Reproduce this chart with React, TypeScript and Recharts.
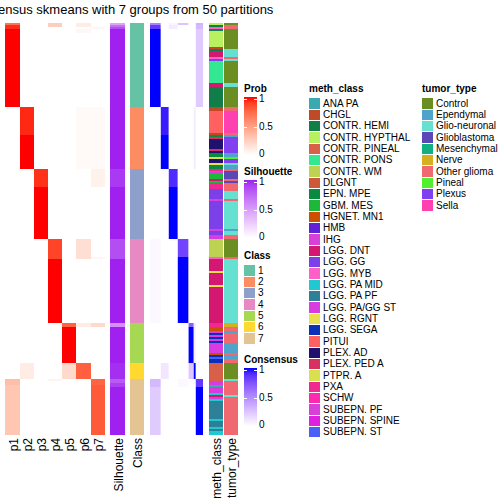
import React from 'react';
import { BarChart, Bar, XAxis, YAxis, Cell } from 'recharts';

// rows per consensus class, top to bottom
const classSizes = [42, 31, 35, 42, 20, 8, 28];
const classColors = ['#66C2A5', '#FC8D62', '#8DA0CB', '#E78AC3', '#A6D854', '#FFD92F', '#E5C494'];

// membership probability columns, run-length encoded as [rows, value]
const probP1: [number, number][] = [[1, 0.7], [2, 0.94], [39, 1], [136, 0], [3, 0.34], [25, 0.3]];
const probP2: [number, number][] = [[42, 0], [14, 0.95], [17, 1], [97, 0], [8, 0.1], [28, 0]];
const probP3: [number, number][] = [[73, 0], [9, 0.93], [26, 1], [98, 0]];
const probP4: [number, number][] = [[2, 0.26], [106, 0], [10, 0.88], [32, 1], [28, 0], [1, 0.06], [27, 0]];
const probP5: [number, number][] = [[150, 0], [2, 0.77], [18, 1], [8, 0.2], [28, 0]];
const probP6: [number, number][] = [[2, 0.1], [1, 0], [2, 0.04], [37, 0], [31, 0.03], [35, 0], [10, 0.17], [32, 0], [2, 0.1], [18, 0], [8, 0.78], [28, 0]];
const probP7: [number, number][] = [[2, 0], [1, 0.05], [39, 0], [31, 0.03], [9, 0.07], [35, 0], [1, 0.05], [32, 0], [2, 0.2], [26, 0], [3, 0.76], [25, 0.8]];
const probLabels = ['p1', 'p2', 'p3', 'p4', 'p5', 'p6', 'p7'];

const silhouetteRuns: [number, number][] = [
  [1, 0.45], [1, 0.7], [1, 0.85], [70, 1], [9, 0.93], [26, 1], [10, 0.85], [32, 1],
  [2, 0.55], [18, 1], [8, 0.96], [2, 0.8], [2, 0.9], [24, 1],
];

// consensus of each row with the samples of class 1..7
const consensusRuns: [number, number[]][] = [
  [1, [0.55, 0, 0.05, 0.25, 0, 0, 0.32]],
  [2, [0.85, 0, 0.08, 0, 0, 0, 0.3]],
  [39, [1, 0, 0, 0, 0, 0, 0.22]],
  [14, [0, 0.95, 0, 0, 0, 0.08, 0]],
  [17, [0, 1, 0, 0, 0, 0.08, 0]],
  [9, [0, 0, 0.9, 0, 0, 0, 0]],
  [26, [0, 0, 1, 0, 0, 0, 0]],
  [9, [0.03, 0, 0, 0.8, 0, 0, 0]],
  [33, [0.03, 0, 0, 1, 0, 0, 0]],
  [2, [0, 0, 0, 0, 0.7, 0.1, 0]],
  [18, [0, 0, 0, 0, 1, 0.08, 0]],
  [8, [0, 0.1, 0, 0, 0.24, 1, 0]],
  [4, [0.3, 0, 0, 0.03, 0, 0, 0.85]],
  [24, [0.22, 0, 0, 0, 0, 0, 1]],
];

const methClassLevels = [
  'ANA PA', 'CHGL', 'CONTR. HEMI', 'CONTR. HYPTHAL', 'CONTR. PINEAL', 'CONTR. PONS', 'CONTR. WM',
  'DLGNT', 'EPN. MPE', 'GBM. MES', 'HGNET. MN1', 'HMB', 'IHG', 'LGG. DNT', 'LGG. GG', 'LGG. MYB',
  'LGG. PA MID', 'LGG. PA PF', 'LGG. PA/GG ST', 'LGG. RGNT', 'LGG. SEGA', 'PITUI', 'PLEX. AD',
  'PLEX. PED A', 'PTPR. A', 'PXA', 'SCHW', 'SUBEPN. PF', 'SUBEPN. SPINE', 'SUBEPN. ST',
];
const methClassColors = [
  '#3AAAB0', '#C04A28', '#117E4A', '#B8F060', '#D86048', '#33E890', '#BCD250',
  '#CC5A3A', '#0A8A40', '#1DB83A', '#CC5000', '#6020D8', '#D840D8', '#D41872', '#7B40E8', '#FF60C8',
  '#20C8D0', '#2E8098', '#D83CE0', '#E8E050', '#0A30B8', '#FF6060', '#201070',
  '#D83060', '#D8E050', '#F02890', '#FF28B0', '#D840D8', '#E020E0', '#4860F8',
];
const tumorTypeLevels = ['Control', 'Ependymal', 'Glio-neuronal', 'Glioblastoma', 'Mesenchymal', 'Nerve', 'Other glioma', 'Pineal', 'Plexus', 'Sella'];
const tumorTypeColors = ['#6B8E23', '#4FA4CC', '#66E0D0', '#5A48B8', '#10B080', '#D4B020', '#F06870', '#50F030', '#8040F0', '#FF40B0'];

const methClassRuns: [number, string][] = [
  [1, 'CONTR. HYPTHAL'], [1, 'CONTR. HEMI'], [1, 'LGG. MYB'], [1, 'CONTR. HEMI'], [8, 'CONTR. HYPTHAL'],
  [1, 'CHGL'], [1, 'CONTR. HEMI'], [3, 'LGG. DNT'], [1, 'LGG. MYB'], [1, 'LGG. GG'], [11, 'CONTR. PONS'],
  [2, 'LGG. DNT'], [10, 'CONTR. HEMI'],
  [2, 'CHGL'], [11, 'PITUI'], [1, 'CHGL'], [1, 'EPN. MPE'], [1, 'PLEX. PED A'], [5, 'PLEX. AD'],
  [1, 'PLEX. PED A'], [1, 'PLEX. AD'], [2, 'EPN. MPE'], [1, 'PTPR. A'], [2, 'PLEX. AD'], [1, 'LGG. RGNT'], [2, 'EPN. MPE'],
  [1, 'PXA'], [1, 'IHG'], [3, 'GBM. MES'], [1, 'LGG. DNT'], [1, 'GBM. MES'], [3, 'PXA'], [5, 'LGG. GG'],
  [1, 'IHG'], [14, 'LGG. GG'], [1, 'IHG'], [2, 'LGG. GG'], [2, 'LGG. PA/GG ST'],
  [9, 'CONTR. WM'], [1, 'LGG. MYB'], [6, 'LGG. DNT'], [1, 'LGG. RGNT'], [6, 'LGG. DNT'], [1, 'LGG. RGNT'], [18, 'LGG. DNT'],
  [2, 'PXA'], [2, 'HGNET. MN1'], [1, 'LGG. PA/GG ST'], [1, 'LGG. SEGA'], [1, 'LGG. PA/GG ST'], [1, 'LGG. SEGA'],
  [1, 'LGG. PA/GG ST'], [1, 'LGG. SEGA'], [5, 'LGG. PA/GG ST'], [1, 'HGNET. MN1'], [1, 'LGG. SEGA'], [1, 'SUBEPN. ST'], [2, 'LGG. SEGA'],
  [9, 'CONTR. PINEAL'],
  [2, 'LGG. PA/GG ST'], [1, 'ANA PA'], [3, 'LGG. PA/GG ST'], [1, 'LGG. PA MID'], [1, 'LGG. DNT'], [1, 'LGG. PA/GG ST'],
  [1, 'LGG. PA MID'], [9, 'LGG. PA PF'], [1, 'LGG. PA MID'], [3, 'LGG. PA PF'], [1, 'LGG. PA MID'], [1, 'LGG. PA PF'], [2, 'LGG. PA MID'],
];

const tumorTypeRuns: [number, string][] = [
  [1, 'Control'], [2, 'Other glioma'], [10, 'Control'], [4, 'Glio-neuronal'], [1, 'Other glioma'], [1, 'Glio-neuronal'],
  [11, 'Control'], [2, 'Glio-neuronal'], [10, 'Control'],
  [2, 'Other glioma'], [11, 'Sella'], [1, 'Other glioma'], [1, 'Ependymal'], [8, 'Plexus'], [2, 'Ependymal'],
  [1, 'Pineal'], [2, 'Plexus'], [1, 'Glio-neuronal'], [2, 'Ependymal'],
  [1, 'Other glioma'], [4, 'Glioblastoma'], [1, 'Other glioma'], [1, 'Glioblastoma'], [4, 'Other glioma'],
  [4, 'Glio-neuronal'], [1, 'Other glioma'], [14, 'Glio-neuronal'], [1, 'Ependymal'], [2, 'Glio-neuronal'], [2, 'Other glioma'],
  [9, 'Control'], [1, 'Other glioma'], [32, 'Glio-neuronal'],
  [2, 'Nerve'], [2, 'Other glioma'], [1, 'Ependymal'], [5, 'Other glioma'], [5, 'Ependymal'], [1, 'Other glioma'],
  [2, 'Ependymal'], [2, 'Other glioma'],
  [8, 'Control'],
  [1, 'Glio-neuronal'], [7, 'Other glioma'], [1, 'Glio-neuronal'], [19, 'Other glioma'],
];

// ---- colour helpers (white -> colour ramps interpolated in Lab, like colorRamp2) ----
const toLin = (c: number) => { c /= 255; return c <= 0.04045 ? c / 12.92 : ((c + 0.055) / 1.055) ** 2.4; };
const fromLin = (c: number) => {
  const v = c <= 0.0031308 ? 12.92 * c : 1.055 * c ** (1 / 2.4) - 0.055;
  return Math.round(Math.max(0, Math.min(1, v)) * 255);
};
const hexToLab = (hex: string) => {
  const [r, g, b] = [1, 3, 5].map((i) => toLin(parseInt(hex.slice(i, i + 2), 16)));
  const x = (0.4124 * r + 0.3576 * g + 0.1805 * b) / 0.95047;
  const y = 0.2126 * r + 0.7152 * g + 0.0722 * b;
  const z = (0.0193 * r + 0.1192 * g + 0.9505 * b) / 1.08883;
  const f = (t: number) => (t > 0.008856 ? Math.cbrt(t) : 7.787 * t + 16 / 116);
  return [116 * f(y) - 16, 500 * (f(x) - f(y)), 200 * (f(y) - f(z))];
};
const labToHex = ([L, A, B]: number[]) => {
  const fy = (L + 16) / 116, fx = fy + A / 500, fz = fy - B / 200;
  const inv = (t: number) => (t ** 3 > 0.008856 ? t ** 3 : (t - 16 / 116) / 7.787);
  const x = inv(fx) * 0.95047, y = inv(fy), z = inv(fz) * 1.08883;
  const r = 3.2406 * x - 1.5372 * y - 0.4986 * z;
  const g = -0.9689 * x + 1.8758 * y + 0.0415 * z;
  const b = 0.0557 * x - 0.204 * y + 1.057 * z;
  return '#' + [r, g, b].map((c) => fromLin(c).toString(16).padStart(2, '0')).join('');
};
const ramp = (hi: string) => {
  const a = hexToLab('#FFFFFF'), b = hexToLab(hi);
  return (t: number) => labToHex(a.map((v, i) => v + (b[i] - v) * t));
};
const probColor = ramp('#FF0000');
const silColor = ramp('#A020F0');
const consColor = ramp('#0000FF');

// ---- expand runs into one record per sample row ----
const expand = <T,>(runs: [number, T][]): T[] => runs.flatMap(([n, v]) => Array(n).fill(v));
const probCols = [probP1, probP2, probP3, probP4, probP5, probP6, probP7].map(expand);
const silVals = expand(silhouetteRuns);
const consVals = expand(consensusRuns);
const classVals = expand(classSizes.map((n, i) => [n, i + 1] as [number, number]));
const methVals = expand(methClassRuns);
const tumorVals = expand(tumorTypeRuns);
const nRows = classVals.length;

type Row = { row: number; p: number[]; sil: number; cls: number; cons: number[]; meth: string; tumor: string };
const rows: Row[] = Array.from({ length: nRows }, (_, i) => ({
  row: i,
  p: probCols.map((c) => c[i]),
  sil: silVals[i],
  cls: classVals[i],
  cons: consVals[i],
  meth: methVals[i],
  tumor: tumorVals[i],
}));

// heatmap column layout, left to right (widths in px)
type Col = { key: string; width: number; label?: string; fill?: (r: Row) => string };
const probWidths = [15, 14, 14, 14, 14, 15, 14];
const consWidth = 53;
const columns: Col[] = [
  ...probLabels.map((lab, k) => ({ key: lab, width: probWidths[k], label: lab, fill: (r: Row) => probColor(r.p[k]) })),
  { key: 'gap1', width: 5 },
  { key: 'sil', width: 15, label: 'Silhouette', fill: (r: Row) => silColor(r.sil) },
  { key: 'gap2', width: 5 },
  { key: 'cls', width: 14, label: 'Class', fill: (r: Row) => classColors[r.cls - 1] },
  { key: 'gap3', width: 6 },
  ...classSizes.map((n, k) => ({ key: `c${k + 1}`, width: (n * consWidth) / nRows, fill: (r: Row) => consColor(r.cons[k]) })),
  { key: 'gap4', width: 6 },
  { key: 'meth', width: 14, label: 'meth_class', fill: (r: Row) => methClassColors[methClassLevels.indexOf(r.meth)] },
  { key: 'gap5', width: 1 },
  { key: 'tumor', width: 14, label: 'tumor_type', fill: (r: Row) => tumorTypeColors[tumorTypeLevels.indexOf(r.tumor)] },
];
const totalWidth = columns.reduce((s, c) => s + c.width, 0);
const tickValues: number[] = [];
const tickLabels: string[] = [];
columns.reduce((x, c) => {
  if (c.label) { tickValues.push(x + c.width / 2); tickLabels.push(c.label); }
  return x + c.width;
}, 0);

const FONT = '"Liberation Sans", Arial, sans-serif';

const ColumnLabel = (props: any) => {
  const { x, y, index } = props;
  return (
    <text x={x + 1} y={y} transform={`rotate(-90 ${x + 1} ${y})`} textAnchor="end" dominantBaseline="central"
      fontSize={12} fontFamily={FONT} fill="#000">
      {tickLabels[index]}
    </text>
  );
};

const txt = (left: number, top: number, s: string, bold = false, size = 10): React.ReactNode => (
  <div key={`${s}-${left}-${top}`} style={{ position: 'absolute', left, top, fontSize: size, lineHeight: `${size}px`, fontWeight: bold ? 'bold' : 'normal', whiteSpace: 'nowrap' }}>{s}</div>
);

const GradientLegend = ({ title, top, color }: { title: string; top: number; color: (t: number) => string }) => {
  const barTop = top + 13, h = 58;
  const stops = Array.from({ length: 11 }, (_, i) => `${color(1 - i / 10)} ${i * 10}%`).join(', ');
  const y1 = barTop + 2, y0 = barTop + h - 1;
  return (
    <>
      {txt(244, top, title, true)}
      <div style={{ position: 'absolute', left: 244, top: barTop, width: 13, height: h, background: `linear-gradient(to bottom, ${stops})` }} />
      {[1, 0.5].map((v) => {
        const yy = y0 + (y1 - y0) * v;
        return (
          <React.Fragment key={v}>
            <div style={{ position: 'absolute', left: 244, top: yy, width: 3, height: 1, background: '#fff' }} />
            <div style={{ position: 'absolute', left: 254, top: yy, width: 3, height: 1, background: '#fff' }} />
          </React.Fragment>
        );
      })}
      {[1, 0.5, 0].map((v) => txt(259, y0 + (y1 - y0) * v - 4.7, String(v)))}
    </>
  );
};

const SwatchLegend = ({ title, left, top, labels, colors, w = 11 }: { title: string; left: number; top: number; labels: string[]; colors: string[]; w?: number }) => (
  <>
    {txt(left, top, title, true)}
    {labels.map((lab, i) => {
      const cy = top + 19.5 + i * 11.33;
      return (
        <React.Fragment key={lab}>
          <div style={{ position: 'absolute', left, top: cy - 5.2, width: w, height: 10.4, background: colors[i] }} />
          {txt(left + w + 3, cy - 4.7, lab)}
        </React.Fragment>
      );
    })}
  </>
);

export default function App() {
  return (
    <div style={{ position: 'absolute', left: 0, top: 0, width: 504, height: 504, background: '#fff', fontFamily: FONT, overflow: 'hidden' }}>
      <div style={{ position: 'absolute', left: 122 - 200, top: 3, width: 400, textAlign: 'center', fontSize: 13, lineHeight: '13px', whiteSpace: 'nowrap' }}>
        consensus skmeans with 7 groups from 50 partitions
      </div>
      <div style={{ position: 'absolute', left: 0, top: 0 }}>
        <BarChart width={240} height={504} data={rows} layout="vertical" margin={{ top: 23, right: 2, bottom: 3, left: 5 }}
          barCategoryGap={0} barGap={0}>
          <XAxis type="number" domain={[0, totalWidth]} ticks={tickValues} interval={0} tick={<ColumnLabel />}
            tickLine={false} axisLine={false} height={66} tickSize={0} tickMargin={3} allowDataOverflow />
          <YAxis type="category" dataKey="row" hide />
          {columns.map((c) => (
            <Bar key={c.key} dataKey={() => c.width} stackId="hm" isAnimationActive={false} fill="none">
              {c.fill && rows.map((r, i) => <Cell key={i} fill={c.fill!(r)} />)}
            </Bar>
          ))}
        </BarChart>
      </div>
      <GradientLegend title="Prob" top={84} color={probColor} />
      <GradientLegend title="Silhouette" top={167} color={silColor} />
      <SwatchLegend title="Class" left={244} top={251} labels={classColors.map((_, i) => String(i + 1))} colors={classColors} />
      <GradientLegend title="Consensus" top={355} color={consColor} />
      <SwatchLegend title="meth_class" left={309} top={84} labels={methClassLevels} colors={methClassColors} />
      <SwatchLegend title="tumor_type" left={422} top={84} labels={tumorTypeLevels} colors={tumorTypeColors} />
    </div>
  );
}
